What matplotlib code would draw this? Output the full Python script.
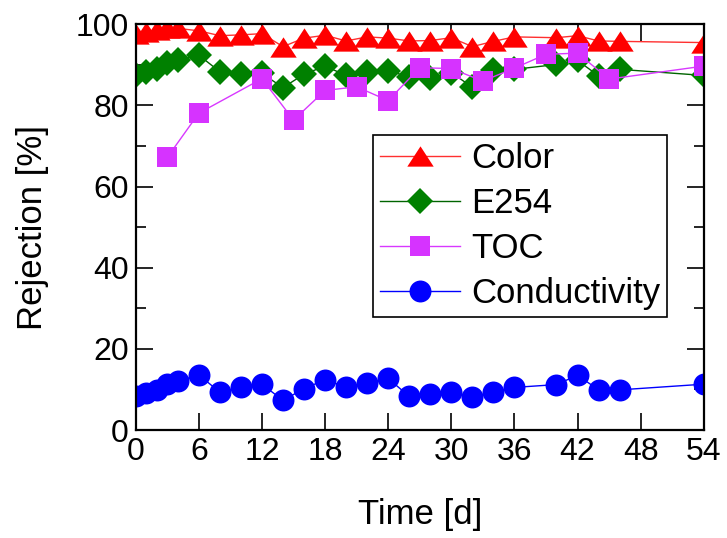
import numpy as np
import matplotlib
matplotlib.use('Agg')
import matplotlib.pyplot as plt

plt.rcParams['font.family'] = ['Liberation Sans', 'DejaVu Sans']

# sampling days
days = [0, 1, 2, 3, 4, 6, 8, 10, 12, 14, 16, 18, 20, 22, 24, 26, 28, 30, 32, 34, 36, 40, 42, 44, 46, 54]
toc_days = [3, 6, 12, 15, 18, 21, 24, 27, 30, 33, 36, 39, 42, 45, 54]

color = [97.5, 98, 98.5, 99, 99, 98.4, 97.2, 97.4, 97.7, 94.5, 96.6, 97.3, 95.9, 96.9, 96.6,
         95.9, 96.0, 96.7, 94.5, 95.8, 96.9, 96.7, 97.2, 95.9, 95.8, 95.5]
e254 = [87.6, 88.3, 89.0, 90.5, 91.1, 92.4, 88.3, 87.8, 87.9, 84.4, 87.7, 89.7, 87.4, 88.3, 88.6,
        87.0, 86.7, 88.1, 84.5, 88.7, 88.9, 90.1, 91.1, 87.3, 88.9, 87.4]
toc = [67.2, 78.1, 86.6, 76.4, 83.7, 84.6, 81.2, 89.3, 89.1, 86.0, 89.2, 92.6, 92.9, 86.5, 89.7]
cond = [8.4, 9.2, 9.9, 11.3, 12.0, 13.6, 9.3, 10.5, 11.3, 7.3, 10.2, 12.4, 10.6, 11.6, 12.7,
        8.3, 8.9, 9.4, 8.2, 9.4, 10.5, 11.2, 13.5, 9.9, 9.9, 11.3]

# wide flat triangle like the original
tri = [(-1.3, -1), (1.3, -1), (0, 1), (-1.3, -1)]

fig = plt.figure(figsize=(7.27, 5.38), dpi=100)
ax = fig.add_axes([0.1867, 0.2007, 0.7813, 0.7541])

ax.plot(days, color, color='#ff3030', lw=1, marker=tri, ms=19, mfc='red', mec='red',
        mew=0, label='Color')
ax.plot(days, e254, color='#006400', lw=1, marker='D', ms=13.7, mfc='#008000', mec='#008000',
        mew=0, label='E254')
ax.plot(toc_days, toc, color='#d838ff', lw=1, marker='s', ms=14.4, mfc='#d633ff', mec='#d633ff',
        mew=0, label='TOC')
ax.plot(days, cond, color='#0000ff', lw=1, marker='o', ms=15.8, mfc='blue', mec='blue',
        mew=0, label='Conductivity')

ax.set_xlim(0, 54)
ax.set_ylim(0, 100)
ax.set_xticks(np.arange(0, 55, 6))
ax.set_yticks(np.arange(0, 101, 20))
ax.set_yticks(np.arange(10, 100, 20), minor=True)
ax.tick_params(which='both', direction='in', top=True, right=True, width=1.2,
               labelsize=23, pad=5)
ax.tick_params(which='major', length=12)
ax.tick_params(which='minor', length=7)
for s in ax.spines.values():
    s.set_linewidth(1.6)

ax.set_xlabel('Time [d]', fontsize=25, labelpad=22)
ax.set_ylabel('Rejection [%]', fontsize=25, labelpad=19)

leg = ax.legend(loc='upper left', bbox_to_anchor=(0.418, 0.727), fontsize=25,
                fancybox=False, edgecolor='black', framealpha=1, handlelength=2.3,
                handletextpad=0.32, borderpad=0.2, labelspacing=0.35, borderaxespad=0)
leg.get_frame().set_linewidth(1.2)

fig.savefig('out.png', dpi=100)
